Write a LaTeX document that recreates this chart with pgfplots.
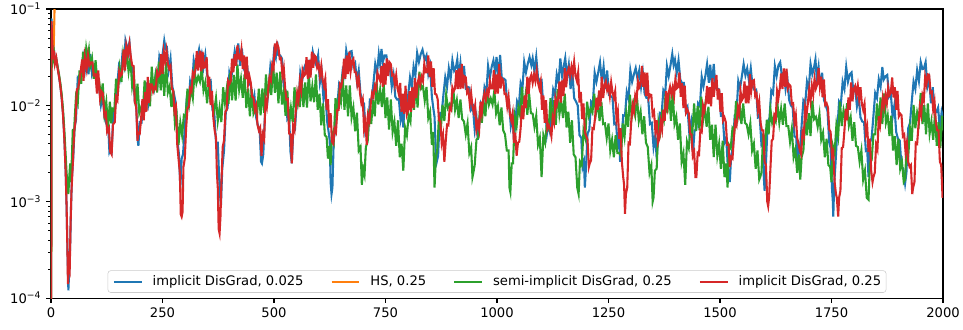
\documentclass[border=0pt]{standalone}
\usepackage{pgfplots}
\pgfplotsset{compat=1.18}
\usepackage{fontspec}
\setmainfont{DejaVu Sans}
\definecolor{tabblue}{HTML}{1F77B4}
\definecolor{taborange}{HTML}{FF7F0E}
\definecolor{tabgreen}{HTML}{2CA02C}
\definecolor{tabred}{HTML}{D62728}
\begin{document}
\begin{tikzpicture}
\useasboundingbox (-36.7bp,-22.3bp) rectangle (656.6bp,214.6bp);
\begin{axis}[
  at={(0,0)}, anchor=south west,
  scale only axis, width=642.2bp, height=208.1bp,
  ymode=log, xmin=0, xmax=2000, ymin=1e-4, ymax=1e-1,
  xtick={0,250,...,2000},
  ytick={1e-4,1e-3,1e-2,1e-1},
  yticklabels={10\textsuperscript{−4},10\textsuperscript{−3},10\textsuperscript{−2},10\textsuperscript{−1}},
  minor ytick={2e-4,3e-4,4e-4,5e-4,6e-4,7e-4,8e-4,9e-4,2e-3,3e-3,4e-3,5e-3,6e-3,7e-3,8e-3,9e-3,2e-2,3e-2,4e-2,5e-2,6e-2,7e-2,8e-2,9e-2},
  tick align=outside, tick pos=left,
  major tick length=3.5bp, minor tick length=2bp,
  major tick style={black, line width=0.8bp},
  minor tick style={black, line width=0.6bp},
  axis line style={line width=0.8bp},
  xticklabel style={/pgf/number format/1000 sep={}, /pgf/number format/assume math mode=true, font=\fontsize{9.5}{11}\selectfont},
  yticklabel style={font=\fontsize{9.5}{11}\selectfont},
  /pgf/number format/1000 sep={},
  /pgf/number format/assume math mode=true,
  legend style={at={(0.5,0.0184)}, anchor=south, legend columns=4, draw=black!20, rounded corners=2bp,
    fill=white, fill opacity=0.8, text opacity=1, draw opacity=1, font=\fontsize{9.5}{11}\selectfont,
    inner xsep=3.5bp, inner ysep=3bp,
    nodes={inner sep=0pt, text height=7.5bp, text depth=2.2bp},
    /tikz/every odd column/.append style={column sep=7.2bp},
    /tikz/every even column/.append style={column sep=19.4bp}},
  legend cell align=left,
  legend image code/.code={\draw[#1] (0bp,0bp) -- (20bp,0bp);},
]
\addplot[tabblue, line width=1.5bp] coordinates {
(0,1e-6)(1,0.08)(3,0.048)(5,0.032)(7,0.036)(9,0.028)(12,0.03)(15,0.025)(18,0.02)(21,0.016)(24,0.012)(27,0.0082)(30,0.0046)(33,0.002)(35,0.0009)(37,0.0003)(39,0.00012)(41,0.0002)(43,0.00035)(45,0.0009)(47,0.0018)(50,0.0029)(53,0.006)(56,0.007)(60,0.019)(64,0.0176)(68,0.023)(72,0.0317)(76,0.023)(80,0.033)(84,0.021)(88,0.034)(92,0.021)(96,0.024)(100,0.023)(104,0.0148)(108,0.0154)(112,0.0101)(116,0.0128)(120,0.0075)(124,0.0065)(128,0.0067)(131,0.0033)(133,0.0035)(136,0.0033)(140,0.0087)(144,0.0097)(148,0.015)(152,0.0244)(156,0.0197)(160,0.033)(164,0.0265)(167,0.047)(170,0.041)(173,0.04)(176,0.045)(180,0.0246)(184,0.0242)(188,0.0109)(191,0.0109)(194,0.0046)(196,0.0038)(199,0.0067)(203,0.0066)(207,0.0105)(211,0.0094)(215,0.0173)(219,0.011)(223,0.016)(227,0.0177)(231,0.0148)(235,0.0209)(239,0.0172)(243,0.032)(247,0.0273)(251,0.036)(254,0.047)(257,0.0385)(260,0.0396)(264,0.0234)(268,0.0307)(272,0.0158)(276,0.013)(280,0.0104)(284,0.0041)(287,0.0031)(290,0.0014)(293,0.0028)(296,0.0031)(300,0.0058)(304,0.011)(308,0.0098)(312,0.0176)(316,0.0148)(320,0.0294)(324,0.0238)(328,0.031)(332,0.038)(335,0.0295)(338,0.0341)(342,0.025)(346,0.0333)(350,0.0211)(354,0.018)(358,0.0183)(362,0.009)(366,0.0086)(370,0.0041)(374,0.0041)(377,0.0018)(379,0.0012)(381,0.0009)(384,0.0022)(388,0.0034)(392,0.0086)(396,0.0094)(400,0.0218)(404,0.0185)(408,0.027)(412,0.0366)(416,0.0287)(420,0.044)(424,0.0257)(428,0.039)(432,0.0246)(436,0.027)(440,0.0256)(444,0.0164)(448,0.0165)(452,0.0105)(456,0.0128)(460,0.0075)(464,0.0062)(468,0.0055)(471,0.0026)(473,0.0025)(476,0.0031)(480,0.0087)(484,0.0097)(488,0.015)(492,0.0256)(496,0.0205)(500,0.0363)(504,0.0312)(507,0.046)(510,0.0334)(514,0.033)(518,0.0305)(522,0.0156)(526,0.0143)(530,0.0072)(534,0.0077)(537,0.0033)(540,0.0025)(543,0.0051)(547,0.0056)(551,0.011)(555,0.0105)(559,0.0218)(563,0.0176)(567,0.024)(571,0.0268)(575,0.0221)(579,0.0275)(583,0.0234)(587,0.0358)(591,0.029)(595,0.026)(599,0.033)(603,0.0172)(607,0.022)(611,0.0117)(615,0.0154)(619,0.0069)(622,0.0055)(625,0.0043)(627,0.0016)(629,0.0012)(631,0.0014)(634,0.0045)(638,0.0057)(642,0.01)(646,0.0165)(650,0.0148)(654,0.0231)(658,0.0203)(662,0.0371)(666,0.029)(670,0.036)(674,0.0366)(678,0.0254)(682,0.0275)(686,0.0179)(690,0.023)(694,0.0132)(698,0.011)(702,0.0104)(705,0.0051)(708,0.0055)(711,0.0051)(715,0.0115)(719,0.0114)(723,0.017)(727,0.0268)(731,0.0213)(735,0.0341)(738,0.0265)(741,0.0385)(744,0.0282)(748,0.033)(752,0.033)(756,0.023)(760,0.0242)(764,0.0156)(768,0.0205)(772,0.0123)(776,0.0115)(780,0.0116)(784,0.007)(788,0.0086)(790,0.0059)(793,0.0109)(797,0.0097)(801,0.013)(805,0.0195)(809,0.0156)(813,0.0253)(817,0.0203)(821,0.035)(825,0.0282)(829,0.034)(833,0.0378)(838,0.0295)(842,0.033)(846,0.0211)(850,0.0256)(854,0.0123)(857,0.0095)(860,0.0076)(863,0.0031)(865,0.0026)(868,0.003)(872,0.0083)(876,0.0084)(880,0.013)(884,0.0195)(888,0.0156)(892,0.0242)(896,0.0187)(900,0.0294)(904,0.0229)(908,0.025)(911,0.03)(914,0.0197)(918,0.0275)(922,0.0164)(926,0.0256)(930,0.015)(934,0.0155)(938,0.0153)(942,0.009)(946,0.0097)(950,0.0056)(954,0.0074)(957,0.0044)(960,0.0062)(964,0.0104)(968,0.0094)(972,0.0154)(976,0.0133)(980,0.0256)(984,0.0194)(988,0.025)(992,0.0293)(996,0.0221)(999,0.0319)(1003,0.0195)(1007,0.0333)(1011,0.0185)(1015,0.019)(1019,0.0183)(1023,0.0103)(1027,0.0108)(1031,0.0061)(1035,0.0077)(1038,0.0044)(1041,0.0065)(1045,0.011)(1049,0.0098)(1053,0.017)(1057,0.0148)(1061,0.0282)(1065,0.022)(1069,0.027)(1073,0.0317)(1077,0.0262)(1080,0.0308)(1084,0.0226)(1088,0.032)(1092,0.0194)(1096,0.018)(1100,0.0183)(1104,0.0094)(1108,0.0097)(1112,0.0051)(1115,0.0064)(1118,0.0055)(1122,0.0088)(1126,0.0146)(1130,0.0127)(1134,0.0209)(1138,0.0172)(1142,0.0307)(1146,0.0202)(1150,0.026)(1153,0.031)(1157,0.0197)(1161,0.0264)(1165,0.0148)(1169,0.0218)(1173,0.0119)(1177,0.011)(1181,0.01)(1185,0.0049)(1189,0.0046)(1192,0.0023)(1195,0.0026)(1197,0.0014)(1200,0.0025)(1203,0.0051)(1207,0.0056)(1211,0.011)(1215,0.0105)(1219,0.0218)(1223,0.0176)(1227,0.022)(1231,0.028)(1235,0.018)(1239,0.0253)(1243,0.0148)(1247,0.023)(1251,0.0128)(1255,0.0125)(1259,0.012)(1263,0.0064)(1267,0.0066)(1271,0.0035)(1274,0.0045)(1276,0.0026)(1279,0.0042)(1283,0.0079)(1287,0.0078)(1291,0.0138)(1295,0.0117)(1299,0.023)(1303,0.0176)(1307,0.021)(1311,0.0244)(1315,0.0189)(1319,0.0231)(1323,0.0156)(1327,0.0218)(1331,0.0132)(1335,0.012)(1339,0.012)(1343,0.0064)(1347,0.0066)(1351,0.0037)(1355,0.0049)(1358,0.0028)(1361,0.0045)(1365,0.0083)(1369,0.008)(1373,0.0143)(1377,0.0129)(1381,0.0256)(1385,0.0202)(1389,0.026)(1393,0.0342)(1396,0.0262)(1399,0.0297)(1403,0.0218)(1407,0.0294)(1411,0.0185)(1415,0.017)(1419,0.0171)(1423,0.009)(1427,0.0097)(1431,0.0053)(1435,0.0067)(1438,0.0035)(1440,0.0035)(1443,0.0055)(1447,0.0056)(1451,0.0105)(1455,0.0098)(1459,0.0198)(1463,0.0158)(1467,0.02)(1471,0.0268)(1475,0.0172)(1478,0.0264)(1482,0.0164)(1486,0.0269)(1490,0.015)(1494,0.015)(1498,0.0146)(1502,0.0078)(1506,0.0079)(1510,0.0041)(1514,0.0046)(1518,0.0021)(1520,0.0019)(1522,0.0016)(1525,0.003)(1529,0.0037)(1533,0.0079)(1537,0.0082)(1541,0.0179)(1545,0.015)(1549,0.02)(1553,0.0268)(1557,0.0205)(1561,0.0242)(1565,0.0179)(1569,0.0243)(1573,0.0158)(1577,0.0145)(1581,0.0146)(1585,0.0075)(1589,0.0077)(1593,0.0039)(1596,0.0041)(1598,0.0019)(1600,0.0013)(1603,0.0025)(1607,0.0067)(1611,0.0074)(1615,0.0143)(1619,0.0133)(1623,0.0256)(1627,0.0202)(1631,0.026)(1635,0.0281)(1639,0.0197)(1643,0.022)(1647,0.0148)(1651,0.0192)(1655,0.0114)(1659,0.01)(1663,0.0095)(1667,0.0048)(1671,0.0046)(1674,0.0025)(1676,0.0036)(1679,0.0033)(1683,0.0062)(1687,0.0112)(1691,0.0103)(1695,0.0176)(1699,0.0148)(1703,0.0269)(1707,0.0211)(1711,0.025)(1714,0.03)(1717,0.0189)(1721,0.0253)(1725,0.0148)(1729,0.0218)(1733,0.0114)(1737,0.01)(1741,0.0088)(1745,0.0041)(1748,0.0036)(1751,0.0014)(1753,0.001)(1754,0.0007)(1756,0.0015)(1759,0.0025)(1763,0.0055)(1767,0.011)(1771,0.0103)(1775,0.0176)(1779,0.0148)(1783,0.025)(1787,0.0176)(1791,0.021)(1795,0.022)(1799,0.0139)(1803,0.0152)(1807,0.0098)(1811,0.0125)(1815,0.0075)(1819,0.0068)(1823,0.0067)(1827,0.0034)(1830,0.0035)(1833,0.0018)(1836,0.0041)(1840,0.0046)(1844,0.0078)(1848,0.0134)(1852,0.0119)(1856,0.0187)(1860,0.0156)(1864,0.025)(1867,0.0185)(1871,0.02)(1875,0.0207)(1879,0.0123)(1883,0.0132)(1887,0.0076)(1891,0.01)(1895,0.0053)(1899,0.0045)(1903,0.0043)(1907,0.0023)(1911,0.0022)(1915,0.00155)(1918,0.002)(1922,0.0058)(1926,0.0066)(1930,0.011)(1934,0.0177)(1938,0.0148)(1942,0.0231)(1946,0.0179)(1950,0.0282)(1954,0.0238)(1957,0.024)(1961,0.0281)(1965,0.0156)(1969,0.0187)(1973,0.0105)(1977,0.0154)(1981,0.0086)(1985,0.0085)(1989,0.0095)(1993,0.0057)(1997,0.0086)(2000,0.0076)
};
\addlegendentry{implicit DisGrad, 0.025}
\addplot[taborange, line width=1.5bp] coordinates {
(0,1e-6)(1,0.06)(3,0.035)(5,0.03)(6,0.04)(7,0.06)(8,0.1)(9,0.3)
};
\addlegendentry{HS, 0.25}
\addplot[tabgreen, line width=1.5bp] coordinates {
(0,1e-6)(1,0.06)(3,0.04)(5,0.03)(7,0.034)(9,0.028)(12,0.03)(15,0.025)(18,0.021)(21,0.017)(24,0.013)(27,0.009)(30,0.0055)(33,0.003)(35,0.002)(37,0.0015)(39,0.0012)(41,0.0018)(43,0.0025)(45,0.0016)(47,0.003)(49,0.0057)(51,0.004)(53,0.007)(56,0.0122)(60,0.0105)(64,0.023)(68,0.0168)(72,0.036)(76,0.0255)(79,0.039)(82,0.031)(85,0.038)(88,0.0255)(92,0.031)(96,0.0189)(100,0.0294)(104,0.017)(108,0.0179)(112,0.012)(116,0.0169)(120,0.0083)(124,0.0109)(128,0.006)(132,0.0109)(135,0.0065)(138,0.0092)(142,0.0088)(146,0.0189)(150,0.0135)(154,0.0242)(158,0.0175)(162,0.034)(166,0.0255)(170,0.0336)(174,0.0224)(178,0.031)(182,0.0158)(186,0.0207)(190,0.0098)(194,0.0168)(198,0.0083)(202,0.0095)(206,0.0084)(210,0.0182)(214,0.009)(218,0.0184)(222,0.0098)(226,0.0252)(230,0.0136)(234,0.02)(238,0.0136)(242,0.0284)(246,0.0143)(250,0.0253)(254,0.0126)(258,0.028)(262,0.0136)(266,0.0158)(270,0.0096)(274,0.0142)(278,0.0064)(282,0.0078)(286,0.0039)(290,0.0066)(294,0.0049)(298,0.0079)(302,0.0076)(306,0.0149)(310,0.0105)(314,0.015)(318,0.0119)(322,0.0224)(326,0.017)(330,0.02)(334,0.0176)(338,0.0243)(342,0.0143)(346,0.0173)(350,0.0105)(354,0.0168)(358,0.0106)(362,0.0103)(366,0.0088)(370,0.0119)(374,0.0069)(378,0.0095)(382,0.0067)(386,0.0154)(390,0.0106)(394,0.0147)(398,0.0104)(402,0.0216)(406,0.0113)(410,0.0207)(414,0.0112)(418,0.0266)(422,0.0145)(426,0.0189)(430,0.012)(434,0.0209)(438,0.0094)(442,0.015)(446,0.0077)(450,0.0147)(454,0.0083)(458,0.0095)(462,0.0078)(466,0.0149)(470,0.0079)(474,0.015)(478,0.0084)(482,0.021)(486,0.0119)(490,0.0179)(494,0.0128)(498,0.027)(502,0.0135)(506,0.0219)(510,0.0105)(514,0.0224)(518,0.0102)(522,0.0137)(526,0.0078)(530,0.0142)(534,0.0064)(538,0.0094)(542,0.0067)(546,0.0154)(550,0.0089)(554,0.0131)(558,0.0096)(562,0.0189)(566,0.0096)(570,0.0173)(574,0.0095)(578,0.0217)(582,0.011)(586,0.0158)(590,0.0108)(594,0.0209)(598,0.009)(602,0.0132)(606,0.0062)(610,0.0105)(614,0.0049)(618,0.0047)(621,0.0028)(624,0.0038)(627,0.0024)(630,0.0052)(634,0.0043)(638,0.0119)(642,0.0085)(646,0.0131)(650,0.0108)(654,0.0209)(658,0.009)(662,0.0161)(666,0.0077)(670,0.0161)(674,0.0075)(678,0.0095)(682,0.0054)(686,0.0084)(690,0.0034)(694,0.0037)(697,0.0015)(700,0.0022)(703,0.0019)(706,0.0037)(710,0.0042)(714,0.0092)(718,0.0064)(722,0.0113)(726,0.0077)(730,0.0175)(734,0.0102)(738,0.0145)(742,0.0096)(746,0.0169)(750,0.0074)(754,0.0121)(758,0.0056)(762,0.0115)(766,0.0053)(770,0.0068)(774,0.0038)(778,0.007)(782,0.0029)(786,0.004)(790,0.0021)(794,0.0059)(798,0.0049)(802,0.0079)(806,0.0068)(810,0.0149)(814,0.009)(818,0.0161)(822,0.0095)(826,0.0224)(830,0.0149)(834,0.0158)(838,0.0112)(842,0.0155)(846,0.0074)(850,0.0086)(854,0.0039)(857,0.0053)(860,0.0014)(863,0.0029)(866,0.0034)(870,0.0078)(874,0.0056)(878,0.0101)(882,0.0069)(886,0.0129)(890,0.0094)(894,0.0103)(898,0.0092)(902,0.0149)(906,0.009)(910,0.0113)(914,0.0074)(918,0.0115)(922,0.0072)(926,0.0068)(930,0.005)(934,0.0065)(938,0.0032)(942,0.0037)(945,0.0018)(947,0.002)(950,0.0024)(954,0.0044)(958,0.0046)(962,0.0097)(966,0.0066)(970,0.0109)(974,0.0077)(978,0.0147)(982,0.0102)(986,0.0118)(990,0.0102)(994,0.0142)(998,0.0083)(1002,0.0098)(1006,0.0062)(1010,0.0095)(1014,0.0055)(1018,0.005)(1022,0.0034)(1026,0.0034)(1028,0.0014)(1030,0.00126)(1033,0.0025)(1036,0.0025)(1040,0.0077)(1044,0.0061)(1048,0.0095)(1052,0.0078)(1056,0.0155)(1060,0.009)(1064,0.0127)(1068,0.008)(1072,0.0133)(1076,0.0083)(1080,0.0082)(1084,0.006)(1088,0.0078)(1092,0.0039)(1096,0.0046)(1100,0.0018)(1104,0.0049)(1108,0.0041)(1112,0.0065)(1116,0.0058)(1120,0.0119)(1124,0.0062)(1128,0.0113)(1132,0.0063)(1136,0.0147)(1140,0.0081)(1144,0.0111)(1148,0.0074)(1152,0.0132)(1156,0.0059)(1160,0.0086)(1164,0.0041)(1168,0.007)(1172,0.0031)(1176,0.0029)(1180,0.0014)(1183,0.0012)(1186,0.0026)(1190,0.0024)(1194,0.0055)(1198,0.0046)(1202,0.0109)(1206,0.0078)(1210,0.0092)(1214,0.0084)(1218,0.0132)(1222,0.0083)(1226,0.0109)(1230,0.0069)(1234,0.0109)(1238,0.0064)(1242,0.0065)(1246,0.0046)(1250,0.0065)(1254,0.0034)(1258,0.0044)(1262,0.0029)(1266,0.0049)(1270,0.0032)(1274,0.0032)(1278,0.003)(1282,0.0065)(1286,0.0047)(1290,0.0083)(1294,0.006)(1298,0.0129)(1302,0.0075)(1306,0.0103)(1310,0.008)(1314,0.0119)(1318,0.0069)(1322,0.0086)(1326,0.005)(1330,0.0077)(1334,0.0041)(1338,0.0037)(1342,0.002)(1346,0.0024)(1349,0.001)(1351,0.0011)(1354,0.0021)(1358,0.0022)(1362,0.0067)(1366,0.0053)(1370,0.0082)(1374,0.007)(1378,0.0132)(1382,0.0083)(1386,0.0138)(1390,0.0069)(1394,0.0133)(1398,0.0064)(1402,0.0076)(1406,0.0044)(1410,0.0065)(1414,0.0026)(1418,0.0032)(1422,0.0015)(1426,0.0042)(1430,0.0036)(1434,0.0058)(1438,0.0052)(1442,0.0105)(1446,0.0054)(1450,0.0098)(1454,0.0055)(1458,0.0123)(1462,0.007)(1466,0.0095)(1470,0.006)(1474,0.0097)(1478,0.0044)(1482,0.0063)(1486,0.0029)(1490,0.0063)(1494,0.003)(1498,0.004)(1502,0.0022)(1506,0.0043)(1510,0.0018)(1514,0.0025)(1517,0.0014)(1520,0.0039)(1524,0.0036)(1528,0.0058)(1532,0.0054)(1536,0.0111)(1540,0.0075)(1544,0.0101)(1548,0.0064)(1552,0.0105)(1556,0.0066)(1560,0.0063)(1564,0.005)(1568,0.0065)(1572,0.0034)(1576,0.004)(1580,0.0022)(1584,0.0034)(1588,0.0017)(1590,0.0018)(1593,0.002)(1597,0.0051)(1601,0.0038)(1605,0.0071)(1609,0.005)(1613,0.0091)(1617,0.0066)(1621,0.0076)(1625,0.0068)(1629,0.0101)(1633,0.0066)(1637,0.0092)(1641,0.0063)(1645,0.0105)(1649,0.0061)(1653,0.0061)(1657,0.0042)(1661,0.0057)(1665,0.0029)(1669,0.0035)(1673,0.002)(1677,0.0031)(1680,0.0017)(1683,0.0029)(1687,0.0034)(1691,0.0074)(1695,0.0049)(1699,0.0083)(1703,0.0048)(1707,0.0112)(1711,0.0072)(1715,0.0076)(1719,0.006)(1723,0.0081)(1727,0.0044)(1731,0.0052)(1735,0.0029)(1739,0.0045)(1743,0.0024)(1747,0.0023)(1750,0.0016)(1753,0.0038)(1757,0.0032)(1761,0.0063)(1765,0.0048)(1769,0.0109)(1773,0.0061)(1777,0.0089)(1781,0.0072)(1785,0.0105)(1789,0.0062)(1793,0.0075)(1797,0.0043)(1801,0.0067)(1805,0.0038)(1809,0.0037)(1813,0.0026)(1817,0.0034)(1821,0.0017)(1825,0.0021)(1829,0.0011)(1833,0.00105)(1836,0.0025)(1840,0.0027)(1844,0.005)(1848,0.005)(1852,0.0105)(1856,0.0066)(1860,0.0121)(1864,0.0064)(1868,0.0133)(1872,0.0066)(1876,0.0079)(1880,0.0048)(1884,0.0078)(1888,0.0034)(1892,0.0048)(1896,0.0024)(1900,0.0045)(1904,0.0022)(1908,0.0026)(1912,0.0016)(1915,0.0017)(1918,0.0034)(1922,0.0029)(1926,0.0058)(1930,0.0043)(1934,0.0101)(1938,0.0058)(1942,0.0084)(1946,0.0068)(1950,0.0135)(1954,0.0064)(1958,0.0101)(1962,0.005)(1966,0.0105)(1970,0.0051)(1974,0.0068)(1978,0.0044)(1982,0.0081)(1986,0.0038)(1990,0.0067)(1994,0.0036)(1998,0.0078)(2000,0.0055)
};
\addlegendentry{semi-implicit DisGrad, 0.25}
\addplot[tabred, line width=1.5bp] coordinates {
(0,1e-6)(1,0.075)(3,0.045)(5,0.03)(7,0.037)(9,0.027)(12,0.031)(15,0.024)(18,0.02)(21,0.016)(24,0.012)(27,0.008)(30,0.0045)(33,0.002)(35,0.0009)(37,0.0003)(38,0.00014)(40,0.00022)(42,0.0002)(44,0.0006)(46,0.0013)(49,0.0025)(52,0.0053)(55,0.0069)(58,0.0147)(61,0.015)(65,0.02)(70,0.03)(73,0.018)(76,0.032)(80,0.024)(83,0.033)(86,0.026)(90,0.028)(93,0.028)(96,0.0205)(100,0.021)(103,0.0133)(106,0.023)(110,0.0119)(113,0.014)(116,0.0134)(120,0.0078)(123,0.0083)(126,0.0053)(130,0.0058)(133,0.0033)(136,0.0031)(139,0.0063)(143,0.0067)(146,0.0121)(149,0.0113)(153,0.0224)(156,0.0202)(159,0.021)(163,0.038)(166,0.023)(169,0.042)(173,0.034)(176,0.0435)(179,0.032)(182,0.026)(185,0.0256)(188,0.0107)(191,0.0099)(194,0.0043)(196,0.0052)(199,0.0051)(202,0.0072)(205,0.0116)(208,0.007)(211,0.0138)(214,0.0086)(217,0.0198)(220,0.0106)(223,0.0165)(226,0.0165)(229,0.0139)(232,0.0154)(235,0.0148)(238,0.0224)(241,0.0202)(244,0.021)(247,0.034)(250,0.0213)(253,0.036)(256,0.029)(259,0.037)(262,0.027)(265,0.024)(268,0.0256)(271,0.0148)(274,0.0143)(277,0.0086)(280,0.0096)(283,0.004)(286,0.0028)(289,0.002)(291,0.00074)(293,0.0007)(295,0.00078)(297,0.0023)(300,0.0028)(303,0.0058)(306,0.0092)(309,0.0098)(312,0.0149)(315,0.014)(318,0.0218)(321,0.0202)(324,0.024)(327,0.0366)(330,0.023)(334,0.037)(337,0.0226)(340,0.036)(343,0.0246)(346,0.025)(349,0.0317)(352,0.0156)(355,0.0198)(358,0.0101)(361,0.0141)(364,0.0075)(367,0.0055)(370,0.0046)(372,0.002)(374,0.0014)(376,0.00052)(378,0.00047)(380,0.0007)(382,0.0015)(385,0.0037)(388,0.0043)(391,0.0086)(394,0.009)(397,0.0179)(400,0.0167)(403,0.018)(406,0.0305)(409,0.0221)(412,0.034)(415,0.0257)(418,0.042)(421,0.0308)(424,0.03)(427,0.038)(430,0.0238)(433,0.033)(436,0.0187)(439,0.032)(442,0.0167)(445,0.02)(448,0.0171)(451,0.0123)(454,0.0121)(457,0.009)(460,0.01)(463,0.0063)(466,0.0055)(469,0.0059)(472,0.003)(475,0.005)(478,0.0045)(481,0.0113)(484,0.0097)(487,0.0145)(490,0.0195)(493,0.018)(496,0.0264)(499,0.0242)(502,0.044)(504,0.037)(507,0.044)(510,0.04)(513,0.0303)(516,0.0308)(519,0.0203)(522,0.0243)(525,0.015)(528,0.0115)(531,0.0116)(534,0.0051)(537,0.005)(540,0.0025)(543,0.0061)(546,0.0055)(549,0.009)(552,0.0134)(555,0.0111)(558,0.0176)(561,0.0144)(564,0.023)(567,0.0202)(570,0.021)(573,0.0317)(576,0.0189)(579,0.0297)(582,0.0195)(585,0.036)(588,0.0246)(591,0.033)(594,0.0317)(597,0.0246)(600,0.0264)(603,0.0203)(606,0.0256)(609,0.0185)(612,0.016)(615,0.0189)(618,0.009)(621,0.0116)(624,0.0059)(627,0.0083)(630,0.0042)(633,0.004)(636,0.0057)(639,0.0053)(642,0.009)(645,0.009)(648,0.0166)(651,0.0158)(654,0.019)(657,0.0305)(660,0.0189)(663,0.033)(666,0.0211)(669,0.036)(672,0.0229)(675,0.029)(678,0.0305)(681,0.0221)(684,0.022)(687,0.0164)(690,0.0192)(693,0.0132)(696,0.0105)(699,0.0116)(702,0.0057)(705,0.0068)(708,0.0039)(711,0.0079)(714,0.0069)(717,0.0105)(720,0.0134)(723,0.0123)(726,0.016)(729,0.0148)(732,0.0218)(735,0.0194)(738,0.018)(741,0.0256)(744,0.0156)(747,0.0275)(750,0.0164)(753,0.0307)(756,0.0202)(759,0.028)(762,0.0268)(765,0.0205)(768,0.0209)(771,0.0164)(774,0.0205)(777,0.015)(780,0.013)(783,0.0171)(786,0.0086)(789,0.0132)(792,0.0082)(795,0.016)(798,0.0081)(801,0.009)(804,0.014)(807,0.0086)(810,0.0154)(813,0.0094)(816,0.0192)(819,0.0119)(822,0.017)(825,0.0195)(828,0.0164)(831,0.0198)(834,0.0179)(837,0.0269)(840,0.022)(843,0.022)(846,0.033)(849,0.0197)(852,0.0286)(855,0.0156)(858,0.0243)(861,0.0132)(864,0.013)(867,0.0116)(870,0.007)(873,0.0068)(876,0.0041)(879,0.0049)(882,0.0026)(885,0.0042)(888,0.0063)(891,0.0062)(894,0.0094)(897,0.009)(900,0.0154)(903,0.0141)(906,0.015)(909,0.0232)(912,0.0148)(915,0.0242)(918,0.0148)(921,0.0269)(924,0.015)(927,0.02)(930,0.0195)(933,0.0135)(936,0.0143)(939,0.0105)(942,0.0134)(945,0.0097)(948,0.0085)(951,0.01)(954,0.0056)(957,0.0066)(960,0.0056)(963,0.0109)(966,0.0084)(969,0.0115)(972,0.0134)(975,0.0115)(978,0.0143)(981,0.0129)(984,0.0179)(987,0.015)(990,0.015)(993,0.0232)(996,0.0131)(999,0.0209)(1002,0.0133)(1005,0.0269)(1008,0.015)(1011,0.019)(1014,0.0183)(1017,0.0131)(1020,0.0132)(1023,0.0098)(1026,0.0122)(1029,0.0081)(1032,0.007)(1035,0.0083)(1038,0.0041)(1041,0.0052)(1044,0.003)(1047,0.0041)(1050,0.0042)(1053,0.0058)(1056,0.01)(1059,0.0072)(1062,0.0127)(1065,0.0094)(1068,0.0198)(1071,0.0132)(1074,0.019)(1077,0.0207)(1080,0.0172)(1083,0.0209)(1086,0.0179)(1089,0.023)(1092,0.0172)(1095,0.015)(1098,0.0177)(1101,0.009)(1104,0.0127)(1107,0.0066)(1110,0.0113)(1113,0.0057)(1116,0.0062)(1119,0.0057)(1122,0.0048)(1125,0.0075)(1128,0.0066)(1131,0.0118)(1134,0.0101)(1137,0.0118)(1140,0.0177)(1143,0.0107)(1146,0.0182)(1149,0.0125)(1152,0.0243)(1155,0.0154)(1158,0.022)(1161,0.0244)(1164,0.0205)(1167,0.0253)(1170,0.0211)(1173,0.0282)(1176,0.0202)(1179,0.018)(1182,0.022)(1185,0.0107)(1188,0.0138)(1191,0.0072)(1194,0.0105)(1197,0.0053)(1200,0.0048)(1203,0.0044)(1206,0.0023)(1208,0.0025)(1211,0.0027)(1214,0.0058)(1217,0.0057)(1220,0.0075)(1223,0.012)(1226,0.009)(1229,0.0143)(1232,0.0098)(1235,0.0198)(1238,0.0119)(1241,0.016)(1244,0.0177)(1247,0.0144)(1250,0.016)(1253,0.0125)(1256,0.0173)(1259,0.0136)(1262,0.012)(1265,0.014)(1268,0.0072)(1271,0.0086)(1274,0.0045)(1277,0.0058)(1280,0.0026)(1283,0.0018)(1285,0.0015)(1287,0.00075)(1289,0.0012)(1292,0.0014)(1295,0.0041)(1298,0.004)(1301,0.0068)(1304,0.01)(1307,0.0086)(1310,0.0127)(1313,0.0113)(1316,0.0179)(1319,0.0154)(1322,0.0165)(1325,0.0256)(1328,0.0156)(1331,0.022)(1334,0.0125)(1337,0.0218)(1340,0.0119)(1343,0.013)(1346,0.0128)(1349,0.008)(1352,0.0086)(1355,0.0055)(1358,0.007)(1361,0.0041)(1364,0.0045)(1367,0.0067)(1370,0.0056)(1373,0.009)(1376,0.0069)(1379,0.0141)(1382,0.0101)(1385,0.0135)(1388,0.0156)(1391,0.013)(1394,0.0154)(1397,0.0125)(1400,0.0186)(1403,0.015)(1406,0.0155)(1409,0.022)(1412,0.0123)(1415,0.017)(1418,0.0094)(1421,0.016)(1424,0.0084)(1427,0.009)(1430,0.0083)(1433,0.0051)(1436,0.005)(1439,0.003)(1442,0.0033)(1445,0.0018)(1447,0.0018)(1450,0.0032)(1453,0.0031)(1456,0.0055)(1459,0.0053)(1462,0.01)(1465,0.0088)(1468,0.0105)(1471,0.0159)(1474,0.0103)(1477,0.0154)(1480,0.0098)(1483,0.0192)(1486,0.0123)(1489,0.0165)(1492,0.0207)(1495,0.0115)(1498,0.0149)(1501,0.0086)(1504,0.0134)(1507,0.007)(1510,0.0075)(1513,0.0067)(1516,0.0039)(1519,0.0039)(1522,0.0023)(1525,0.0029)(1528,0.0028)(1531,0.0045)(1534,0.0067)(1537,0.0062)(1540,0.0094)(1543,0.0082)(1546,0.0141)(1549,0.0113)(1552,0.012)(1555,0.0177)(1558,0.0105)(1561,0.016)(1564,0.0105)(1567,0.0211)(1570,0.0141)(1573,0.018)(1576,0.0183)(1579,0.0125)(1582,0.0132)(1585,0.009)(1588,0.0109)(1591,0.0066)(1594,0.0055)(1597,0.0055)(1600,0.0026)(1603,0.0024)(1606,0.001)(1608,0.0009)(1610,0.0011)(1613,0.0022)(1616,0.0043)(1619,0.0045)(1622,0.0079)(1625,0.0074)(1628,0.0141)(1631,0.0119)(1634,0.015)(1637,0.0214)(1640,0.0148)(1643,0.0242)(1646,0.0156)(1649,0.024)(1652,0.015)(1655,0.0165)(1658,0.0159)(1661,0.0103)(1664,0.0105)(1667,0.0066)(1670,0.0079)(1673,0.0046)(1676,0.004)(1679,0.0034)(1682,0.0031)(1685,0.0053)(1688,0.0048)(1691,0.0096)(1694,0.0079)(1697,0.0105)(1700,0.0146)(1703,0.0111)(1706,0.016)(1709,0.0129)(1712,0.0189)(1715,0.015)(1718,0.0165)(1721,0.0244)(1724,0.0156)(1727,0.0198)(1730,0.0121)(1733,0.0186)(1736,0.0101)(1739,0.0105)(1742,0.0095)(1745,0.0056)(1748,0.0053)(1751,0.003)(1754,0.0033)(1757,0.0016)(1760,0.0012)(1762,0.0011)(1765,0.0007)(1767,0.0011)(1770,0.0013)(1773,0.0036)(1776,0.0037)(1779,0.0055)(1782,0.0092)(1785,0.007)(1788,0.0121)(1791,0.009)(1794,0.0173)(1797,0.011)(1800,0.0148)(1803,0.0159)(1806,0.0131)(1809,0.016)(1812,0.0117)(1815,0.0154)(1818,0.0104)(1821,0.009)(1824,0.0104)(1827,0.0051)(1830,0.006)(1833,0.0033)(1836,0.0045)(1839,0.0021)(1842,0.0016)(1844,0.0018)(1847,0.002)(1850,0.0039)(1853,0.0035)(1856,0.0077)(1859,0.0063)(1862,0.0088)(1865,0.012)(1868,0.0097)(1871,0.0127)(1874,0.0105)(1877,0.0154)(1880,0.0128)(1883,0.0135)(1886,0.0195)(1889,0.0121)(1892,0.0154)(1895,0.009)(1898,0.0141)(1901,0.0077)(1904,0.0082)(1907,0.0079)(1910,0.0048)(1913,0.005)(1916,0.0033)(1919,0.0041)(1922,0.0026)(1925,0.0023)(1928,0.0024)(1931,0.0012)(1933,0.0014)(1936,0.0016)(1939,0.0041)(1942,0.004)(1945,0.0062)(1948,0.0095)(1951,0.008)(1954,0.0127)(1957,0.0113)(1960,0.0198)(1963,0.0167)(1966,0.021)(1969,0.0207)(1972,0.0135)(1975,0.0138)(1978,0.009)(1981,0.0109)(1984,0.0066)(1987,0.0055)(1990,0.0055)(1993,0.0026)(1996,0.0024)(1999,0.0011)(2000,0.0013)
};
\addlegendentry{implicit DisGrad, 0.25}
\end{axis}
\end{tikzpicture}
\end{document}
